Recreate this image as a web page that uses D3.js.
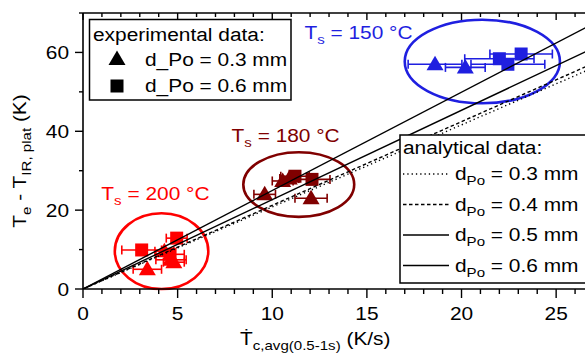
<!DOCTYPE html>
<html><head><meta charset="utf-8">
<script src="https://cdn.jsdelivr.net/npm/d3@7"></script>
<style>body{margin:0;background:#fff}svg{display:block}text{font-family:"Liberation Sans",Arial,sans-serif}</style>
</head><body>
<script>
// ---------- data ----------
const xTicks = [0, 5, 10, 15, 20, 25];
const yTicks = [0, 20, 40, 60];
const xMinor = d3.range(0, 28, 1);
const yMinor = [10, 30, 50, 70];

// T_s = 150 °C (blue)
const tri150X = [18.6, 20.2];
const tri150Y = [57.0, 56.2];
const tri150E = [1.42, 1.05];
const sq150X = [22.0, 23.15, 22.45];
const sq150Y = [58.4, 59.6, 57.0];
const sq150E = [1.83, 1.65, 1.95];

// T_s = 180 °C (dark red)
const tri180X = [9.6, 10.55, 10.9, 12.05];
const tri180Y = [24.0, 27.4, 28.0, 23.0];
const tri180E = [0.57, 0.55, 0.5, 0.85];
const sq180X = [11.2, 12.1];
const sq180Y = [28.6, 27.8];
const sq180E = [0.75, 0.95];

// T_s = 200 °C (red)
const tri200X = [3.4, 4.3, 4.65, 4.8];
const tri200Y = [5.0, 9.6, 7.4, 6.8];
const tri200E = [0.75, 0.5, 0.8, 0.55];
const sq200X = [3.1, 4.95, 4.6];
const sq200Y = [9.9, 12.9, 8.8];
const sq200E = [1.05, 0.55, 0.75];

// ellipses around groups
const groupNames = ["150", "180", "200"];
const groupColors = ["#1f1fe0", "#800000", "#ff0000"];
const ellCx = [21.1, 11.4, 4.15];
const ellCy = [57.7, 26.5, 9.6];
const ellRx = [4.1, 2.93, 2.47];
const ellRy = [10.6, 8.2, 9.6];
const groupLabels = ["150 °C", "180 °C", "200 °C"];
const labelX = [11.7, 7.85, 0.97];
const labelY = [63.5, 37.3, 22.5];

// analytical lines (through origin): value at x = 0 and x = 27
const anaNames = ["0.3 mm", "0.4 mm", "0.5 mm", "0.6 mm"];
const anaX = [0, 27];
const anaY03 = [0, 56.2];
const anaY04 = [0, 57.3];
const anaY05 = [0, 61.2];
const anaY06 = [0, 67.4];
const anaDash = ["1.3,3", "3.5,2.5", null, null];

// ---------- setup ----------
const W = 585, H = 360;
const svg = d3.select("body").append("svg").attr("width", W).attr("height", H);
const x = d3.scaleLinear().domain([0, 27]).range([83, 594]);
const y = d3.scaleLinear().domain([0, 70]).range([289, 13]);
const SX = 1.16;

function stext(parent, px, py, parts, o = {}) {
  const g = parent.append("g").attr("transform",
    `translate(${px},${py})` + (o.rot ? ` rotate(${o.rot})` : "") + ` scale(${SX},1)`);
  const t = g.append("text").attr("font-size", o.size || 18)
    .attr("fill", o.color || "#000").attr("text-anchor", o.anchor || "start");
  let sub = false;
  parts.forEach(p => {
    const isSub = Array.isArray(p);
    const s = isSub ? p[0] : p;
    const ts = t.append("tspan").text(s);
    if (isSub && !sub) { ts.attr("dy", 5).attr("font-size", 13); sub = true; }
    else if (isSub) { ts.attr("font-size", 13); }
    else if (!isSub && sub) { ts.attr("dy", -5); sub = false; }
  });
  return t;
}

// ---------- ellipses ----------
groupNames.forEach((n, i) => {
  svg.append("ellipse")
    .attr("cx", x(ellCx[i])).attr("cy", y(ellCy[i]))
    .attr("rx", x(ellRx[i]) - x(0)).attr("ry", y(0) - y(ellRy[i]))
    .attr("fill", "none").attr("stroke", groupColors[i]).attr("stroke-width", 2.6);
});

// ---------- error bars + markers ----------
const groups = [
  {c: groupColors[0], tri: [tri150X, tri150Y, tri150E], sq: [sq150X, sq150Y, sq150E]},
  {c: groupColors[1], tri: [tri180X, tri180Y, tri180E], sq: [sq180X, sq180Y, sq180E]},
  {c: groupColors[2], tri: [tri200X, tri200Y, tri200E], sq: [sq200X, sq200Y, sq200E]}
];
const triPath = d3.symbol().type(d3.symbolTriangle).size(120);
function errbars(g, xs, ys, es, c) {
  xs.forEach((xv, i) => {
    const yy = y(ys[i]), x1 = x(xv - es[i]), x2 = x(xv + es[i]);
    g.append("line").attr("x1", x1).attr("x2", x2).attr("y1", yy).attr("y2", yy)
      .attr("stroke", c).attr("stroke-width", 1.6);
    [x1, x2].forEach(xc => g.append("line").attr("x1", xc).attr("x2", xc)
      .attr("y1", yy - 4.5).attr("y2", yy + 4.5).attr("stroke", c).attr("stroke-width", 1.6));
  });
}
function triangles(g, xs, ys, c) {
  xs.forEach((xv, i) => {
    const cx = x(xv), cy = y(ys[i]);
    g.append("path").attr("d", `M${cx},${cy - 8.5}L${cx + 8.5},${cy + 6}L${cx - 8.5},${cy + 6}Z`)
      .attr("fill", c);
  });
}
function squares(g, xs, ys, c) {
  xs.forEach((xv, i) => {
    g.append("rect").attr("x", x(xv) - 6.5).attr("y", y(ys[i]) - 6.5)
      .attr("width", 13).attr("height", 13).attr("fill", c);
  });
}
const gm = svg.append("g");
groups.forEach(gr => {
  errbars(gm, ...gr.tri, gr.c);
  errbars(gm, ...gr.sq, gr.c);
});
groups.forEach(gr => {
  triangles(gm, gr.tri[0], gr.tri[1], gr.c);
  squares(gm, gr.sq[0], gr.sq[1], gr.c);
});

// ---------- analytical lines ----------
const anaYs = [anaY03, anaY04, anaY05, anaY06];
const clip = svg.append("clipPath").attr("id", "clp").append("rect")
  .attr("x", 83).attr("y", 13).attr("width", 520).attr("height", 276);
const line = d3.line().x(d => x(d[0])).y(d => y(d[1]));
anaYs.forEach((ys, i) => {
  svg.append("path").attr("d", line(anaX.map((xv, j) => [xv, ys[j]])))
    .attr("fill", "none").attr("stroke", "#000").attr("stroke-width", 1.4)
    .attr("stroke-dasharray", anaDash[i]).attr("clip-path", "url(#clp)");
});

// ---------- group labels ----------
groupNames.forEach((n, i) => {
  stext(svg, x(labelX[i]), y(labelY[i]), ["T", ["s"], " = " + groupLabels[i]], {color: groupColors[i]});
});

// ---------- axes ----------
const ax = svg.append("g").attr("stroke", "#000").attr("fill", "none");
ax.append("line").attr("x1", 83).attr("x2", 585).attr("y1", y(0)).attr("y2", y(0)).attr("stroke-width", 1.6);
ax.append("line").attr("x1", 83).attr("x2", 585).attr("y1", y(70)).attr("y2", y(70)).attr("stroke-width", 1.6);
ax.append("line").attr("x1", x(0)).attr("x2", x(0)).attr("y1", y(0)).attr("y2", y(70)).attr("stroke-width", 1.6);
xMinor.forEach(v => {
  const major = xTicks.includes(v);
  ax.append("line").attr("x1", x(v)).attr("x2", x(v)).attr("y1", y(0)).attr("y2", y(0) + (major ? 9 : 5)).attr("stroke-width", 1.4);
  ax.append("line").attr("x1", x(v)).attr("x2", x(v)).attr("y1", y(70)).attr("y2", y(70) + (major ? 7 : 4)).attr("stroke-width", 1.4);
});
yTicks.concat(yMinor).forEach(v => {
  const major = yTicks.includes(v);
  ax.append("line").attr("x1", x(0) - (major ? 8 : 4)).attr("x2", x(0)).attr("y1", y(v)).attr("y2", y(v)).attr("stroke-width", 1.4);
});
xTicks.forEach(v => stext(svg, x(v), 320, [String(v)], {anchor: "middle"}));
yTicks.forEach(v => stext(svg, 69, y(v) + 6.5, [String(v)], {anchor: "end"}));

// axis titles
stext(svg, 26, 161, ["T", ["e"], " - T", ["IR, plat"], " (K)"], {rot: -90, anchor: "middle"});
stext(svg, 240, 345, ["Ṫ", ["c,avg(0.5-1s)"], " (K/s)"]);

// ---------- legend 1 ----------
const l1 = svg.append("g");
l1.append("rect").attr("x", 89.5).attr("y", 19.5).attr("width", 201.5).attr("height", 80.5)
  .attr("fill", "#fff").attr("stroke", "#000").attr("stroke-width", 1.5);
stext(l1, 93, 41, ["experimental data:"]);
triangles(l1, [x.invert(117)], [y.invert(59)], "#000");
squares(l1, [x.invert(117)], [y.invert(86)], "#000");
stext(l1, 145, 66, ["d_Po = 0.3 mm"]);
stext(l1, 145, 92, ["d_Po = 0.6 mm"]);

// ---------- legend 2 ----------
const l2 = svg.append("g");
l2.append("rect").attr("x", 400).attr("y", 135).attr("width", 200).attr("height", 148)
  .attr("fill", "#fff").attr("stroke", "#000").attr("stroke-width", 1.5);
stext(l2, 403, 154, ["analytical data:"]);
anaNames.forEach((n, i) => {
  const ly = 174 + i * 30.5;
  l2.append("line").attr("x1", 403).attr("x2", 449).attr("y1", ly).attr("y2", ly)
    .attr("stroke", "#000").attr("stroke-width", 1.4).attr("stroke-dasharray", anaDash[i]);
  stext(l2, 455, ly + 6, ["d", ["Po"], " = " + n]);
});
</script>
</body></html>
